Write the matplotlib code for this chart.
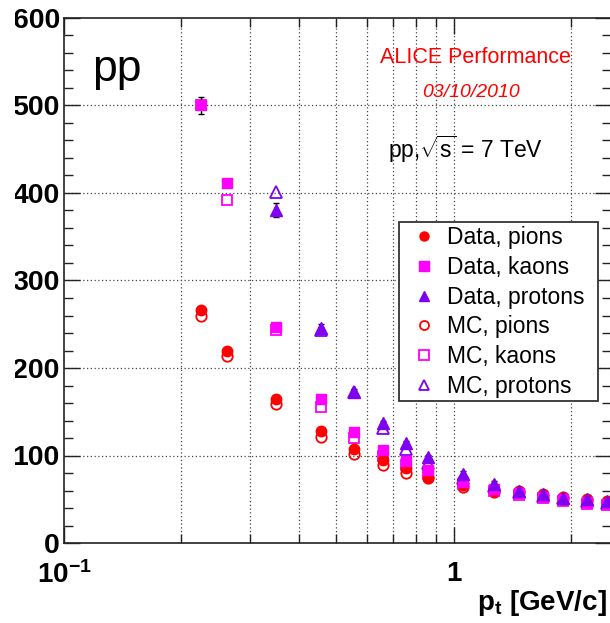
import matplotlib
matplotlib.use("Agg")
import matplotlib.pyplot as plt
from matplotlib.ticker import FixedLocator, FixedFormatter, MultipleLocator, NullFormatter
from matplotlib.lines import Line2D
from matplotlib.patches import Rectangle
from matplotlib.transforms import Bbox

plt.rcParams["font.family"] = ["Liberation Sans", "DejaVu Sans"]
plt.rcParams["mathtext.fontset"] = "custom"
plt.rcParams["mathtext.rm"] = "Liberation Sans"
plt.rcParams["mathtext.it"] = "Liberation Sans:italic"
plt.rcParams["mathtext.bf"] = "Liberation Sans:bold"

# transverse momentum bin centres [GeV/c]
pt = [0.224, 0.262, 0.349, 0.455, 0.553, 0.657, 0.753, 0.857,
      1.055, 1.27, 1.47, 1.69, 1.91, 2.20, 2.47]
pt_protons = pt[2:]

pion_data = [266, 220, 165, 128, 107, 95, 86, 76, 66, 60, 60, 56, 53, 50, 48]
pion_mc = [259, 214, 159, 121, 102, 89, 80, 74, 64, 58, 58, 54, 51, 49, 46]
pion_err = [3, 2, 2, 2, 2, 2, 2, 2, 2, 2, 3, 3, 3, 4, 4]

kaon_data = [500, 411, 247, 165, 127, 106, 94, 83, 70, 62, 57, 53, 50, 47, 45]
kaon_mc = [501, 392, 243, 155, 120, 100, 89, 79, 67, 60, 55, 51, 48, 45, 44]
kaon_err = [10, 4, 3, 3, 2, 2, 2, 2, 2, 3, 4, 4, 5, 5, 5]

proton_data = [381, 246, 173, 137, 114, 98, 79, 68, 60, 56, 52, 50, 48]
proton_mc = [401, 244, 173, 132, 108, 92, 74, 65, 58, 54, 51, 48, 46]
proton_err = [8, 4, 3, 3, 3, 3, 3, 3, 4, 4, 5, 5, 5]

labels = ["Data, pions", "Data, kaons", "Data, protons",
          "MC, pions", "MC, kaons", "MC, protons"]

RED = "#ff0000"
MAG = "#ff00ff"
VIO = "#8000f0"

fig = plt.figure(figsize=(6.10, 6.23), dpi=100)
W, H = 610, 623
x0, x1, ytop, ybot = 64, 611, 18, 543
ax = fig.add_axes([x0 / W, 1 - ybot / H, (x1 - x0) / W, (ybot - ytop) / H])

ax.set_xscale("log")
ax.set_xlim(0.1, 2.53)
ax.set_ylim(0, 600)

# dotted grid under the markers
grid_x = [0.2, 0.3, 0.4, 0.5, 0.6, 0.7, 0.8, 0.9, 1.0, 2.0]
for gx in grid_x:
    ax.axvline(gx, color="#444444", lw=0.9, ls=(0, (1, 2)), zorder=0)
for gy in [100, 200, 300, 400, 500]:
    ax.axhline(gy, color="#444444", lw=0.9, ls=(0, (1, 2)), zorder=0)

ms = 7.5
# simulation first (open markers), data drawn on top
ax.plot(pt, pion_mc, ls="none", marker="o", ms=ms, mfc="none", mec=RED, mew=1.3, zorder=3)
ax.plot(pt, kaon_mc, ls="none", marker="s", ms=ms, mfc="none", mec=MAG, mew=1.3, zorder=3)
ax.plot(pt_protons, proton_mc, ls="none", marker="^", ms=ms + 0.5, mfc="none", mec=VIO,
        mew=1.3, zorder=3)

ebkw = dict(ecolor="black", elinewidth=1.0, capsize=2.5, capthick=1.0, ls="none", zorder=4)
ax.errorbar(pt, pion_data, yerr=pion_err, marker="o", ms=ms, mfc=RED, mec=RED, **ebkw)
ax.errorbar(pt, kaon_data, yerr=kaon_err, marker="s", ms=ms, mfc=MAG, mec=MAG, **ebkw)
ax.errorbar(pt_protons, proton_data, yerr=proton_err, marker="^", ms=ms + 0.5,
            mfc=VIO, mec=VIO, **ebkw)

# axes frame and ticks
for sp in ax.spines.values():
    sp.set_linewidth(1.2)
    sp.set_color("#222222")

ax.xaxis.set_major_locator(FixedLocator([0.1, 1.0]))
ax.xaxis.set_major_formatter(FixedFormatter([r"$\mathbf{10^{-1}}$", r"$\mathbf{1}$"]))
ax.xaxis.set_minor_locator(FixedLocator([0.2, 0.3, 0.4, 0.5, 0.6, 0.7, 0.8, 0.9, 2.0]))
ax.xaxis.set_minor_formatter(NullFormatter())
ax.yaxis.set_major_locator(MultipleLocator(100))
ax.yaxis.set_minor_locator(MultipleLocator(20))

ax.tick_params(which="both", direction="in", top=True, right=True, color="#222222")
ax.tick_params(which="major", length=11.5, width=1.0)
ax.tick_params(which="minor", length=6.3, width=1.0)
ax.tick_params(axis="y", which="major", labelsize=20.5, pad=3)
ax.tick_params(axis="x", which="major", labelsize=20, pad=13)

# the canvas area starts a little inside the left border; labels are cut there
clip = Bbox.from_extents(15, 0, W, H)
for lab in ax.get_yticklabels():
    lab.set_fontweight("bold")
    lab.set_clip_box(clip)
    lab.set_clip_on(True)

fig.text(607 / W, 1 - 603 / H, r"$\mathbf{p_{t}}$ [GeV/c]", ha="right", va="center",
         fontsize=20, fontweight="bold")

# annotations
fig.text(92 / W, 1 - 81 / H, "pp", fontsize=32, ha="left", va="baseline")
fig.text(475 / W, 1 - 63 / H, "ALICE Performance", color=RED, fontsize=15.5,
         ha="center", va="baseline")
fig.text(471 / W, 1 - 97 / H, "03/10/2010", color=RED, fontsize=14, style="italic",
         ha="center", va="baseline")
fig.text(466 / W, 1 - 158 / H, r"pp,$\sqrt{\mathrm{s}}$ = 7 TeV", color="black",
         fontsize=16.5, ha="center", va="baseline")

# legend box
lx0, ly0, lx1, ly1 = 399, 222, 598, 401
box = Rectangle((lx0 / W, 1 - ly1 / H), (lx1 - lx0) / W, (ly1 - ly0) / H,
                transform=fig.transFigure, facecolor="white", edgecolor="#333333",
                linewidth=1.3, zorder=9)
fig.add_artist(box)

handles = [
    Line2D([], [], ls="none", marker="o", ms=6.5, mfc=RED, mec=RED),
    Line2D([], [], ls="none", marker="s", ms=6.5, mfc=MAG, mec=MAG),
    Line2D([], [], ls="none", marker="^", ms=7, mfc=VIO, mec=VIO),
    Line2D([], [], ls="none", marker="o", ms=6.5, mfc="none", mec=RED, mew=1.3),
    Line2D([], [], ls="none", marker="s", ms=6.5, mfc="none", mec=MAG, mew=1.3),
    Line2D([], [], ls="none", marker="^", ms=7, mfc="none", mec=VIO, mew=1.3),
]
leg = fig.legend(handles, labels, loc="upper left",
                 bbox_to_anchor=(lx0 / W, 1 - ly0 / H),
                 borderaxespad=0, fontsize=16.5, frameon=False,
                 handlelength=1.82, handletextpad=0.09, labelspacing=0.29,
                 borderpad=0.19)
leg.set_zorder(10)

fig.savefig("out.png", dpi=100)
